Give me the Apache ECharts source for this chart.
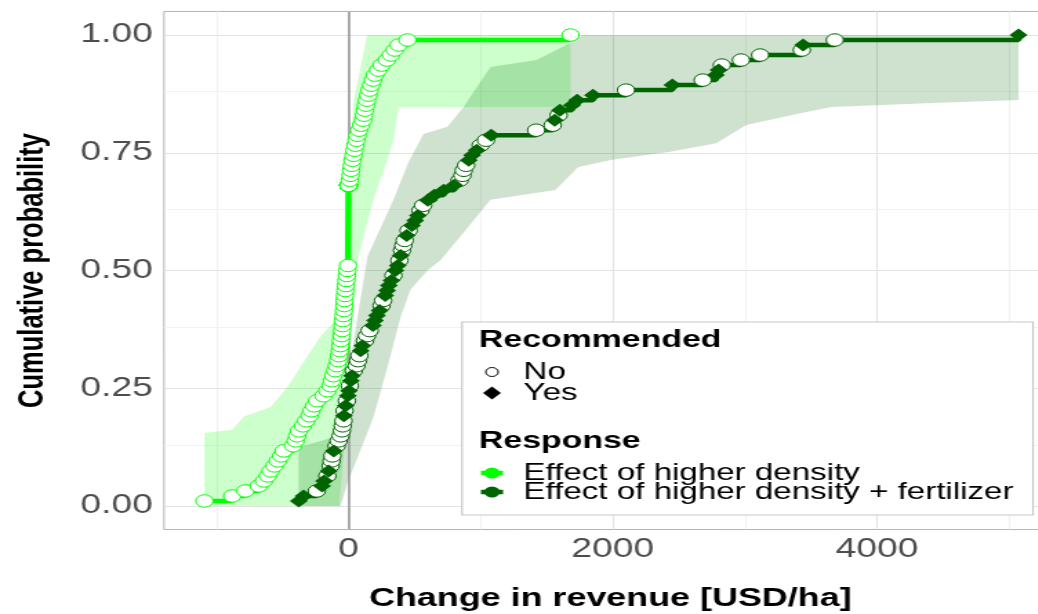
<!DOCTYPE html>
<html>
<head>
<meta charset="utf-8">
<script src="https://cdn.jsdelivr.net/npm/echarts@6/dist/echarts.min.js"></script>
<style>
  html, body { margin: 0; padding: 0; background: #fff; overflow: hidden; }
  #chart { height: 614px; transform-origin: 0 0; }
</style>
</head>
<body>
<div id="chart"></div>
<script>
// tick labels / grid
const xTicks = [0, 2000, 4000]
const xMinorGrid = [-1000, 1000, 3000, 5000]
const yTicks = [0, 0.25, 0.5, 0.75, 1]
const yMinorGrid = [0.125, 0.375, 0.625, 0.875]

// Effect of higher density (all not recommended)
const densityNo = [
  -1090, -880, -780, -680, -640, -610, -590, -560, -535, -510,
  -490, -420, -400, -388, -375, -345, -320, -295, -280, -260,
  -237, -190, -160, -136, -125, -115, -100, -88, -78, -72,
  -66, -62, -57, -52, -48, -45, -42, -38, -35, -32,
  -30, -27, -24, -20, -16, -12, -8, -4,
  0, 0, 0, 0, 0, 0, 0, 0, 0, 0, 0, 0, 0, 0, 0, 0,
  10, 15, 20, 25, 30, 38, 45, 52, 60, 68,
  80, 95, 110, 118, 125, 132, 140, 150, 160, 172,
  185, 200, 225, 250, 290, 320, 350, 380, 446, 1680,
]
const densityYes = []

// Effect of higher density + fertilizer
const fertNo = [
  -240, -160, -135, -128, -122, -90, -75, -60, -50, -44,
  -38, -30, -12, 10, 40, 60, 72, 82, 125, 140,
  160, 250, 262, 340, 385, 405, 415, 425, 455, 545,
  565, 840, 862, 872, 890, 1000, 1040, 1420, 1545, 1590,
  2100, 2680, 2825, 2970, 3115, 3430, 3680,
]
const fertYes = [
  -376, -340, -200, -185, -150, -112, -35, -22, -5, 3,
  18, 26, 92, 105, 185, 200, 215, 235, 278, 292,
  305, 325, 355, 372, 395, 440, 480, 505, 525, 600,
  650, 720, 800, 910, 935, 970, 1080, 1560, 1600, 1690,
  1730, 1850, 2450, 2780, 2800, 3440, 5070,
]

// confidence bands [x, probability]
const densityBandUpper = [
  [-1090, 0.155], [-880, 0.162], [-790, 0.19], [-590, 0.21], [-460, 0.253],
  [-365, 0.295], [-212, 0.36], [-113, 0.39], [-60, 0.415], [-8, 0.55],
  [-4, 0.67], [40, 0.862], [141, 1.0], [1680, 1.0],
]
const densityBandLower = [
  [-1090, 0], [-70, 0], [-40, 0.1], [-20, 0.2], [0, 0.3], [20, 0.4],
  [50, 0.48], [68, 0.52], [140, 0.6], [189, 0.65], [250, 0.7], [300, 0.74],
  [343, 0.78], [370, 0.83], [378, 0.847], [1680, 0.847],
]
const fertBandUpper = [
  [-378, 0.125], [-60, 0.15], [-8, 0.27], [68, 0.40], [144, 0.53], [340, 0.65],
  [454, 0.73], [567, 0.79], [749, 0.805], [870, 0.847], [1074, 0.932],
  [1422, 0.947], [1679, 0.983], [1770, 1.0], [5070, 1.0],
]
const fertBandLower = [
  [-378, 0], [-60, 0], [-8, 0.049], [91, 0.119], [189, 0.189], [295, 0.295],
  [393, 0.40], [469, 0.459], [597, 0.5], [696, 0.522], [870, 0.58], [1074, 0.65],
  [1565, 0.671], [1739, 0.72], [1996, 0.735], [2435, 0.752], [2783, 0.77],
  [3009, 0.809], [3418, 0.834], [3652, 0.847], [4371, 0.855], [5070, 0.862],
]

const LIME = '#00FF00'
const DARK = '#006400'
const FONT = '"Liberation Sans", Arial, sans-serif'

// the reference picture is stretched horizontally; draw narrower and stretch with css
const S = 1.38
const px = v => v / S

const el = document.getElementById('chart')
el.style.width = px(1038) + 'px'
el.style.transform = `scaleX(${S})`

function ecdfPoints(all, subset) {
  const n = all.length
  return subset.map(v => [v, all.filter(u => u <= v).length / n])
}
function ecdfStep(all) {
  const n = all.length
  const xs = [...new Set(all)].sort((a, b) => a - b)
  return xs.map(v => [v, all.filter(u => u <= v).length / n])
}
function bandRender(upper, lower, fill) {
  return (params, api) => ({
    type: 'polygon',
    shape: { points: upper.concat(lower.slice().reverse()).map(d => api.coord(d)) },
    style: { fill },
  })
}

const densityAll = densityNo.concat(densityYes)
const fertAll = fertNo.concat(fertYes)

const majorLine = { color: '#E3E3E3', width: 1.1, type: 'solid' }
const minorLine = { color: '#EFEFEF', width: 0.8, type: 'solid' }
const gridLines = [
  ...xTicks.map(v => ({ xAxis: v, lineStyle: majorLine })),
  ...xMinorGrid.map(v => ({ xAxis: v, lineStyle: minorLine })),
  ...yTicks.map(v => ({ yAxis: v, lineStyle: majorLine })),
  ...yMinorGrid.map(v => ({ yAxis: v, lineStyle: minorLine })),
]

const chart = echarts.init(el)

const legendX = px(462)
const keyX = px(492)
const textX = px(523.5)
const titleX = px(479)
const textStyle = (text, x, y, bold) => ({
  type: 'text', x, y, z: 20,
  style: {
    text, fill: '#000', fontFamily: FONT, fontSize: bold ? 24.5 : 24,
    fontWeight: bold ? 'bold' : 'normal', verticalAlign: 'middle',
  },
})

chart.setOption({
  animation: false,
  grid: {
    left: px(164), top: 11.45, width: px(892.6), height: 518.1,
    outerBoundsMode: 'none', containLabel: false,
    show: true, borderColor: '#B3B3B3', borderWidth: 1, backgroundColor: '#fff',
  },
  xAxis: {
    type: 'value', min: -1396, max: 5358,
    axisLine: { show: false },
    splitLine: { show: false },
    axisTick: { show: true, customValues: xTicks, length: 5, lineStyle: { color: '#B3B3B3' } },
    axisLabel: { customValues: xTicks, margin: 6, fontSize: 27, color: '#4D4D4D', fontFamily: FONT, formatter: v => String(v) },
    name: 'Change in revenue [USD/ha]', nameLocation: 'middle', nameGap: 56,
    nameTextStyle: { fontSize: 26, fontWeight: 'bold', color: '#000', fontFamily: FONT },
  },
  yAxis: {
    type: 'value', min: -0.05, max: 1.05,
    axisLine: { show: false },
    splitLine: { show: false },
    axisTick: { show: true, customValues: yTicks, length: 5, lineStyle: { color: '#B3B3B3' } },
    axisLabel: { customValues: yTicks, margin: 8, fontSize: 27, color: '#4D4D4D', fontFamily: FONT, formatter: v => v.toFixed(2) },
    name: 'Cumulative probability', nameLocation: 'middle', nameGap: 82,
    nameTextStyle: { fontSize: 25.5, fontWeight: 'bold', color: '#000', fontFamily: FONT },
  },
  series: [
    {
      name: 'grid', type: 'line', data: [], silent: true,
      markLine: { silent: true, z: 1, symbol: ['none', 'none'], label: { show: false }, animation: false, data: gridLines },
    },
    {
      name: 'density band', type: 'custom', z: 2, silent: true, data: [[0, 0]],
      renderItem: bandRender(densityBandUpper, densityBandLower, 'rgba(0,255,0,0.2)'),
    },
    {
      name: 'fert band', type: 'custom', z: 2, silent: true, data: [[0, 0]],
      renderItem: bandRender(fertBandUpper, fertBandLower, 'rgba(0,100,0,0.19)'),
    },
    {
      name: 'zero', type: 'line', data: [], silent: true,
      markLine: { silent: true, z: 3, symbol: ['none', 'none'], label: { show: false }, animation: false,
        data: [{ xAxis: 0, lineStyle: { color: '#9A9A9A', width: 1.6, type: 'solid' } }] },
    },
    {
      name: 'Effect of higher density', type: 'line', step: 'end', z: 4, silent: true,
      symbol: 'none', data: ecdfStep(densityAll), lineStyle: { color: LIME, width: 4.5 },
    },
    {
      name: 'Effect of higher density + fertilizer', type: 'line', step: 'end', z: 4, silent: true,
      symbol: 'none', data: ecdfStep(fertAll), lineStyle: { color: DARK, width: 4.5 },
    },
    {
      name: 'density No', type: 'scatter', z: 6, silent: true, symbol: 'circle', symbolSize: 12.5,
      data: ecdfPoints(densityAll, densityNo),
      itemStyle: { color: '#fff', borderColor: LIME, borderWidth: 1, opacity: 1 },
    },
    {
      name: 'density Yes', type: 'scatter', z: 6, silent: true, symbol: 'diamond', symbolSize: 13,
      data: ecdfPoints(densityAll, densityYes), itemStyle: { color: LIME, opacity: 1 },
    },
    {
      name: 'fert No', type: 'scatter', z: 7, silent: true, symbol: 'circle', symbolSize: 12.5,
      data: ecdfPoints(fertAll, fertNo),
      itemStyle: { color: '#fff', borderColor: DARK, borderWidth: 1, opacity: 1 },
    },
    {
      name: 'fert Yes', type: 'scatter', z: 7, silent: true, symbol: 'diamond', symbolSize: 13,
      data: ecdfPoints(fertAll, fertYes), itemStyle: { color: DARK, opacity: 1 },
    },
  ],
  graphic: {
    elements: [
      { type: 'rect', z: 19, shape: { x: legendX, y: 322, width: px(1033 - 462), height: 193 },
        style: { fill: '#fff', stroke: '#C8C8C8', lineWidth: 1.2 } },
      textStyle('Recommended', titleX, 340, true),
      { type: 'circle', z: 20, shape: { cx: keyX, cy: 372, r: 4.5 }, style: { fill: '#fff', stroke: '#000', lineWidth: 1 } },
      textStyle('No', textX, 372, false),
      { type: 'polygon', z: 20, shape: { points: [[keyX - 6.5, 393], [keyX, 386.5], [keyX + 6.5, 393], [keyX, 399.5]] }, style: { fill: '#000' } },
      textStyle('Yes', textX, 393, false),
      textStyle('Response', titleX, 441.7, true),
      { type: 'line', z: 20, shape: { x1: keyX - 8, y1: 473, x2: keyX + 8, y2: 473 }, style: { stroke: LIME, lineWidth: 4.5 } },
      { type: 'circle', z: 20, shape: { cx: keyX, cy: 473, r: 5.5 }, style: { fill: LIME } },
      textStyle('Effect of higher density', textX, 473, false),
      { type: 'line', z: 20, shape: { x1: keyX - 8, y1: 492, x2: keyX + 8, y2: 492 }, style: { stroke: DARK, lineWidth: 4.5 } },
      { type: 'circle', z: 20, shape: { cx: keyX, cy: 492, r: 5.5 }, style: { fill: DARK } },
      textStyle('Effect of higher density + fertilizer', textX, 492, false),
    ],
  },
})
</script>
</body>
</html>
